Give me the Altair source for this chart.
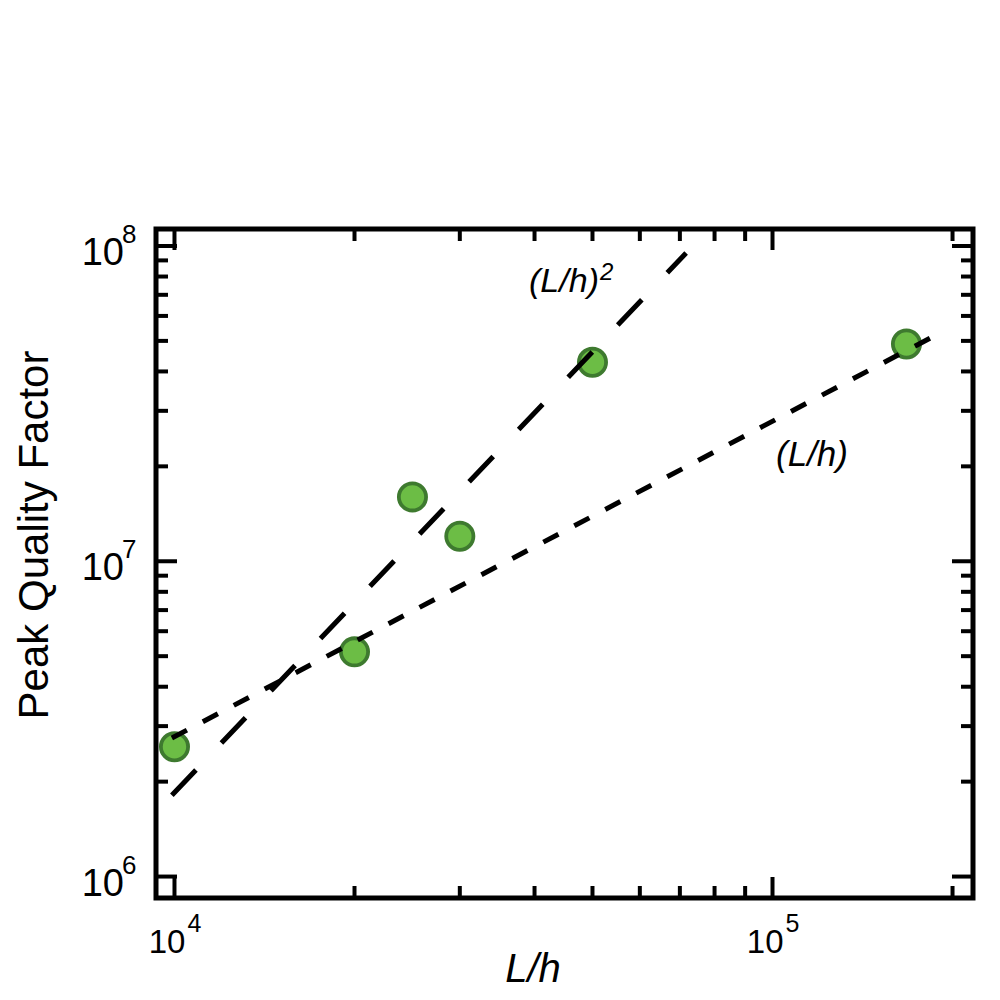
import altair as alt
import pandas as pd

# ---- data ----
lh = [1.0e4, 2.0e4, 2.5e4, 3.0e4, 5.0e4, 1.675e5]
qf = [2.58e6, 5.16e6, 1.6e7, 1.2e7, 4.28e7, 4.89e7]

lin_x = [9900, 187000]       # (L/h) guide line end points
lin_q = [2.75e6, 5.2e7]
sq_x = [9900, 71700]         # (L/h)^2 guide line end points
sq_q = [1.81e6, 9.5e7]

x_major = [1e4, 1e5]
x_major_exp = ["4", "5"]
x_minor = [2e4, 3e4, 4e4, 5e4, 6e4, 7e4, 8e4, 9e4, 2e5]
y_major = [1e6, 1e7, 1e8]
y_major_exp = ["6", "7", "8"]
y_minor = [2e6, 3e6, 4e6, 5e6, 6e6, 7e6, 8e6, 9e6,
           2e7, 3e7, 4e7, 5e7, 6e7, 7e7, 8e7, 9e7]

W, H = 817, 669
FONT = "Liberation Sans"
MAJ, MIN = 21, 12

xs = alt.Scale(type="log", domain=[9313, 216400], nice=False)
ys = alt.Scale(type="log", domain=[8.55e5, 1.132e8], nice=False)

pts = pd.DataFrame({"x": lh, "y": qf})
lin = pd.DataFrame({"x": lin_x, "y": lin_q})
sq = pd.DataFrame({"x": sq_x, "y": sq_q})
xM = pd.DataFrame({"v": x_major, "e": x_major_exp, "b": ["10"] * len(x_major)})
xm = pd.DataFrame({"v": x_minor})
yM = pd.DataFrame({"v": y_major, "e": y_major_exp, "b": ["10"] * len(y_major)})
ym = pd.DataFrame({"v": y_minor})

X = lambda: alt.X("x:Q", scale=xs, axis=None)
Y = lambda: alt.Y("y:Q", scale=ys, axis=None)

points = alt.Chart(pts).mark_circle(
    size=740, color="#6cbd45", opacity=1, stroke="#3e7a2f", strokeWidth=3.8
).encode(x=X(), y=Y())

line1 = alt.Chart(lin).mark_line(
    color="black", strokeWidth=5, strokeDash=[17, 18], strokeCap="butt"
).encode(x=X(), y=Y())

line2 = alt.Chart(sq).mark_line(
    color="black", strokeWidth=5, strokeDash=[35, 37], strokeCap="butt"
).encode(x=X(), y=Y())

def xticks(df, length):
    xv = alt.X("v:Q", scale=xs, axis=None)
    b = alt.Chart(df).mark_rule(color="black", strokeWidth=4).encode(
        x=xv, y=alt.value(H), y2=alt.value(H - length))
    t = alt.Chart(df).mark_rule(color="black", strokeWidth=4).encode(
        x=xv, y=alt.value(0), y2=alt.value(length))
    return [b, t]

def yticks(df, length):
    yv = alt.Y("v:Q", scale=ys, axis=None)
    l = alt.Chart(df).mark_rule(color="black", strokeWidth=4).encode(
        y=yv, x=alt.value(0), x2=alt.value(length))
    r = alt.Chart(df).mark_rule(color="black", strokeWidth=4).encode(
        y=yv, x=alt.value(W), x2=alt.value(W - length))
    return [l, r]

ticks = xticks(xM, MAJ) + xticks(xm, MIN) + yticks(yM, MAJ) + yticks(ym, MIN)

xlab_base = alt.Chart(xM).mark_text(
    font=FONT, fontSize=33, align="right", baseline="alphabetic", dx=11, color="black"
).encode(x=alt.X("v:Q", scale=xs, axis=None), y=alt.value(724), text="b:N")
xlab_exp = alt.Chart(xM).mark_text(
    font=FONT, fontSize=25, align="left", baseline="alphabetic", dx=13, color="black"
).encode(x=alt.X("v:Q", scale=xs, axis=None), y=alt.value(703), text="e:N")

ylab_base = alt.Chart(yM).mark_text(
    font=FONT, fontSize=38, align="right", baseline="alphabetic", dy=19, color="black"
).encode(y=alt.Y("v:Q", scale=ys, axis=None), x=alt.value(-32), text="b:N")
ylab_exp = alt.Chart(yM).mark_text(
    font=FONT, fontSize=26, align="left", baseline="alphabetic", dy=-3, color="black"
).encode(y=alt.Y("v:Q", scale=ys, axis=None), x=alt.value(-34), text="e:N")

xtitle = alt.Chart(pd.DataFrame({"t": ["L/h"]})).mark_text(
    font=FONT, fontSize=40, fontStyle="italic", align="center", baseline="alphabetic", color="black"
).encode(x=alt.value(377), y=alt.value(753), text="t:N")

ytitle = alt.Chart(pd.DataFrame({"t": ["Peak Quality Factor"]})).mark_text(
    font=FONT, fontSize=42, angle=270, align="center", baseline="alphabetic", color="black"
).encode(x=alt.value(-108), y=alt.value(306), text="t:N")

ann1 = alt.Chart(pd.DataFrame({"t": ["(L/h)"]})).mark_text(
    font=FONT, fontSize=35, fontStyle="italic", align="center", baseline="alphabetic", color="black"
).encode(x=alt.value(656), y=alt.value(237), text="t:N")

ann2 = alt.Chart(pd.DataFrame({"t": ["(L/h)"]})).mark_text(
    font=FONT, fontSize=34, fontStyle="italic", align="center", baseline="alphabetic", color="black"
).encode(x=alt.value(408), y=alt.value(63), text="t:N")

ann2e = alt.Chart(pd.DataFrame({"t": ["2"]})).mark_text(
    font=FONT, fontSize=24, fontStyle="italic", align="left", baseline="alphabetic", color="black"
).encode(x=alt.value(444), y=alt.value(51), text="t:N")

chart = alt.layer(
    points, line1, line2, *ticks,
    xlab_base, xlab_exp, ylab_base, ylab_exp,
    xtitle, ytitle, ann1, ann2, ann2e
).properties(
    width=W, height=H,
    autosize=alt.AutoSizeParams(type="none"),
    padding={"left": 156, "top": 229, "right": 27, "bottom": 102},
).configure_view(stroke="black", strokeWidth=5)

chart.save("out.html", embed_options={"renderer": "svg", "actions": False})
